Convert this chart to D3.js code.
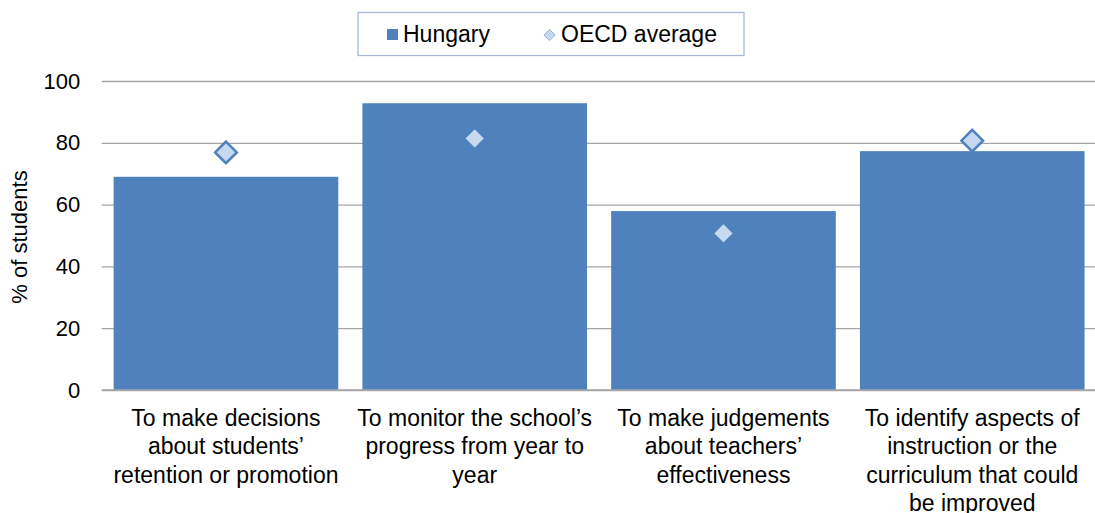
<!DOCTYPE html>
<html>
<head>
<meta charset="utf-8">
<script src="https://cdn.jsdelivr.net/npm/d3@7"></script>
<style>
  html, body { margin: 0; padding: 0; background: #ffffff; }
  svg { display: block; font-family: "Liberation Sans", Arial, sans-serif; }
</style>
</head>
<body>
<svg id="chart" width="1095" height="513"></svg>
<script>
// Purposes for which assessment results are used
const categories = [
  "To make decisions\nabout students’\nretention or promotion",
  "To monitor the school’s\nprogress from year to\nyear",
  "To make judgements\nabout teachers’\neffectiveness",
  "To identify aspects of\ninstruction or the\ncurriculum that could\nbe improved"
];
const hungary = [69.0, 92.8, 57.9, 77.3];
const oecdAverage = [76.9, 81.4, 50.7, 80.7];
const yTicks = [0, 20, 40, 60, 80, 100];
const seriesNames = ["Hungary", "OECD average"];

const barColor = "#4f81bd";
const diamondFill = "#c6d9f1";
const gridColor = "#a6a6a6";

const svg = d3.select("#chart");
const margin = { left: 101.7, right: 1096.5, top: 81, bottom: 390 };

const x = d3.scaleBand()
  .domain(categories)
  .range([margin.left, margin.right])
  .paddingInner(0.097)
  .paddingOuter(0.048);

const y = d3.scaleLinear()
  .domain([0, 100])
  .range([margin.bottom, margin.top]);

// Horizontal gridlines and value labels
const yAxis = d3.axisLeft(y)
  .tickValues(yTicks)
  .tickSize(-(margin.right - margin.left))
  .tickPadding(21.5)
  .tickFormat(d3.format("d"));

const gy = svg.append("g")
  .attr("transform", `translate(${margin.left},0)`)
  .call(yAxis);
gy.select(".domain").remove();
gy.selectAll(".tick line")
  .attr("stroke", gridColor)
  .attr("stroke-width", 1.3);
gy.selectAll(".tick text")
  .attr("font-size", 22)
  .attr("fill", "#000")
  .attr("font-family", "Liberation Sans, Arial, sans-serif");

// Bars
svg.append("g")
  .selectAll("rect")
  .data(hungary)
  .join("rect")
  .attr("x", (d, i) => x(categories[i]))
  .attr("y", d => y(d))
  .attr("width", x.bandwidth())
  .attr("height", d => y(0) - y(d))
  .attr("fill", barColor);

// Baseline
svg.append("line")
  .attr("x1", margin.left)
  .attr("x2", margin.right)
  .attr("y1", y(0))
  .attr("y2", y(0))
  .attr("stroke", gridColor)
  .attr("stroke-width", 1.3);

// OECD average markers
const diamond = d3.symbol().type(d3.symbolDiamond2).size(300);
svg.append("g")
  .selectAll("path")
  .data(oecdAverage)
  .join("path")
  .attr("d", diamond)
  .attr("transform", (d, i) => `translate(${x(categories[i]) + x.bandwidth() / 2},${y(d)})`)
  .attr("fill", diamondFill)
  .attr("stroke", barColor)
  .attr("stroke-width", 2.5);

// Category labels below the axis
const xAxis = d3.axisBottom(x).tickSize(0).tickFormat("");
const gx = svg.append("g")
  .attr("transform", `translate(0,${y(0)})`)
  .call(xAxis);
gx.select(".domain").remove();
gx.selectAll(".tick").each(function (d) {
  const t = d3.select(this).append("text")
    .attr("text-anchor", "middle")
    .attr("font-size", 23)
    .attr("fill", "#000");
  d.split("\n").forEach((line, k) => {
    t.append("tspan")
      .attr("x", 0)
      .attr("y", 36 + k * 28.4)
      .text(line);
  });
});

// Y axis title
svg.append("text")
  .attr("transform", "translate(27,237) rotate(-90)")
  .attr("text-anchor", "middle")
  .attr("font-size", 22)
  .attr("fill", "#000")
  .text("% of students");

// Legend
const legend = svg.append("g");
legend.append("rect")
  .attr("x", 358)
  .attr("y", 12.5)
  .attr("width", 386)
  .attr("height", 43)
  .attr("fill", "#fff")
  .attr("stroke", "#a7b9d6")
  .attr("stroke-width", 1.3);
legend.append("rect")
  .attr("x", 387)
  .attr("y", 29)
  .attr("width", 11)
  .attr("height", 11)
  .attr("fill", barColor);
legend.append("text")
  .attr("x", 403)
  .attr("y", 42)
  .attr("font-size", 23)
  .attr("fill", "#000")
  .text(seriesNames[0]);
legend.append("path")
  .attr("d", d3.symbol().type(d3.symbolDiamond2).size(80))
  .attr("transform", "translate(549.5,35)")
  .attr("fill", diamondFill)
  .attr("stroke", "#8eb0dc")
  .attr("stroke-width", 1);
legend.append("text")
  .attr("x", 561)
  .attr("y", 42)
  .attr("font-size", 23)
  .attr("fill", "#000")
  .text(seriesNames[1]);
</script>
</body>
</html>
